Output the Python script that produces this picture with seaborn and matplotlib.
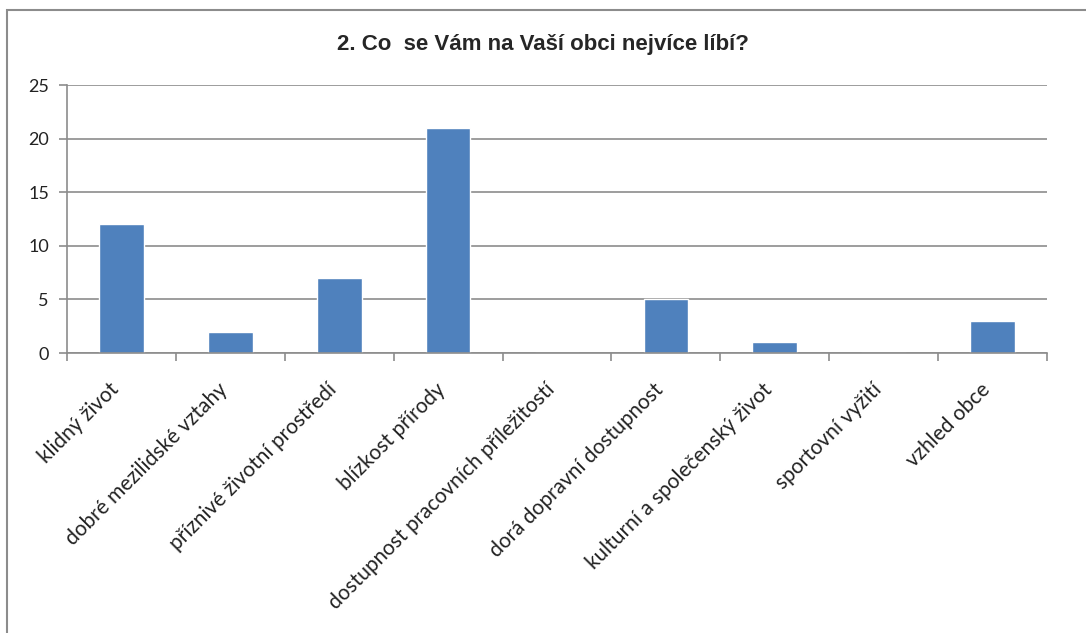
import matplotlib.pyplot as plt
import matplotlib.transforms as mtransforms
import seaborn as sns
import pandas as pd
from matplotlib.patches import Rectangle

sns.set_theme(style='white')
plt.rcParams['font.family'] = ['Lato', 'DejaVu Sans']

# Survey answers
categories = ['klidný život', 'dobré mezilidské vztahy', 'příznivé životní prostředí',
              'blízkost přírody', 'dostupnost pracovních příležitostí',
              'dorá dopravní dostupnost', 'kulturní a společenský život',
              'sportovní vyžití', 'vzhled obce']
counts = [12, 2, 7, 21, 0, 5, 1, 0, 3]
y_ticks = [0, 5, 10, 15, 20, 25]

df = pd.DataFrame({'Odpověď': categories, 'Počet': counts})

fig = plt.figure(figsize=(10.86, 6.33), dpi=100)
ax = fig.add_axes([0.0617, 0.4423, 0.9023, 0.4234])

sns.barplot(data=df, x='Odpověď', y='Počet', color='#4F81BD', width=0.41,
            saturation=1, ax=ax)

ax.set_ylim(0, 25)
ax.set_xlim(-0.5, len(categories) - 0.5)
ax.set_yticks(y_ticks)
ax.grid(axis='y', color='#8C8C8C', linewidth=1.2)
ax.set_axisbelow(True)
ax.set_xlabel('')
ax.set_ylabel('')

for side in ['top', 'right']:
    ax.spines[side].set_visible(False)
for side in ['left', 'bottom']:
    ax.spines[side].set_color('#8C8C8C')
    ax.spines[side].set_linewidth(1.2)

# category labels at centers, ticks at the boundaries like excel
ax.set_xticks(range(len(categories)))
ax.set_xticklabels(categories, rotation=45, ha='right', rotation_mode='anchor',
                   fontsize=15, color='#222222')
ax.set_xticks([i - 0.5 for i in range(len(categories) + 1)], minor=True)
ax.tick_params(axis='x', which='major', length=0, pad=19)
ax.tick_params(axis='x', which='minor', length=6, width=1.2, color='#8C8C8C',
               direction='out', bottom=True)
ax.tick_params(axis='y', length=6, width=1.2, color='#8C8C8C', direction='out',
               left=True, labelsize=13, labelcolor='#222222', pad=7)

# nudge rotated labels a bit to the left
shift = mtransforms.ScaledTranslation(-9 / 72, 0, fig.dpi_scale_trans)
for lbl in ax.get_xticklabels():
    lbl.set_transform(lbl.get_transform() + shift)

fig.text(0.5, 0.929, '2. Co  se Vám na Vaší obci nejvíce líbí?', ha='center',
         va='center', fontsize=16, fontweight='bold',
         family=['Liberation Sans Narrow', 'Liberation Sans', 'DejaVu Sans'])

# outer chart frame
fig.patches.append(Rectangle((7 / 1086, -0.05), 1.2, 1.034,
                             transform=fig.transFigure, fill=False,
                             edgecolor='#8C8C8C', linewidth=1.5))

fig.savefig('out.png', dpi=100)
